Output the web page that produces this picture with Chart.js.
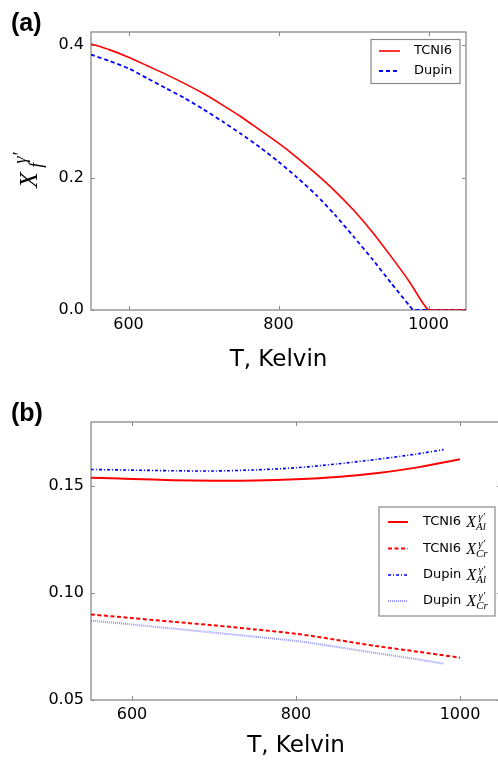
<!DOCTYPE html>
<html>
<head>
<meta charset="utf-8">
<script src="https://cdn.jsdelivr.net/npm/chart.js@4.4.1/dist/chart.umd.min.js"></script>
<style>
  html, body { margin: 0; padding: 0; background: #fff; overflow: hidden; width: 498px; height: 761px; }
  #wrapA { position: absolute; left: 0; top: 0; }
  #wrapB { position: absolute; left: 0; top: 380px; }
</style>
</head>
<body>
<div id="wrapA"><canvas id="chartA" width="498" height="380"></canvas></div>
<div id="wrapB"><canvas id="chartB" width="512" height="381"></canvas></div>
<script>
// axis ticks
const xTicks = [600, 800, 1000];
const yTicksA = [0.0, 0.2, 0.4];
const yTicksB = [0.05, 0.10, 0.15];

// (a) gamma' fraction vs T
const tempA1 = [550, 575, 600, 625, 650, 675, 700, 725, 750, 775, 800, 825, 850, 875, 900, 925, 950, 975, 1000, 1025, 1050];
const fracTCNI6 = [0.402, 0.393, 0.382, 0.369, 0.356, 0.342, 0.327, 0.310, 0.292, 0.272, 0.252, 0.230, 0.206, 0.180, 0.151, 0.118, 0.081, 0.042, 0.000, 0.000, 0.000];
const tempA2 = [550, 575, 600, 625, 650, 675, 700, 725, 750, 775, 800, 825, 850, 875, 900, 925, 950, 975, 980, 1000, 1050];
const fracDupin = [0.386, 0.376, 0.365, 0.350, 0.335, 0.320, 0.303, 0.285, 0.266, 0.246, 0.224, 0.200, 0.174, 0.144, 0.111, 0.077, 0.041, 0.006, 0.000, 0.000, 0.000];

// (b) gamma' composition vs T
const tempB1 = [550, 600, 650, 700, 750, 800, 850, 900, 950, 1000];
const alTCNI6 = [0.1539, 0.1534, 0.1528, 0.1525, 0.1526, 0.1532, 0.1543, 0.1562, 0.1589, 0.1626];
const crTCNI6 = [0.0900, 0.0883, 0.0866, 0.0849, 0.0830, 0.0810, 0.0781, 0.0751, 0.0725, 0.0698];
const tempB2 = [550, 600, 650, 700, 750, 800, 850, 900, 950, 980];
const alDupin = [0.1578, 0.1575, 0.1572, 0.1571, 0.1576, 0.1586, 0.1604, 0.1626, 0.1652, 0.1671];
const crDupin = [0.0871, 0.0853, 0.0834, 0.0815, 0.0796, 0.0776, 0.0748, 0.0718, 0.0689, 0.0670];

function pts(xs, ys) { return xs.map((x, i) => ({x: x, y: ys[i]})); }

// X with subscript and superscript, roughly like mathtext
function drawMath(ctx, x, y, size, sub, sup, subDx, supDx) {
    ctx.textBaseline = 'alphabetic';
    ctx.textAlign = 'left';
    ctx.font = 'italic ' + size + 'px "Liberation Serif"';
    ctx.fillText('X', x, y);
    const w = ctx.measureText('X').width;
    const s = Math.round(size * 0.68);
    ctx.font = 'italic ' + s + 'px "Liberation Serif"';
    ctx.fillText(sub, x + w + size * subDx, y + size * 0.2);
    ctx.fillText(sup, x + w + size * supDx, y - size * 0.42);
}

const mplFrame = {
    id: 'mplFrame',
    beforeDatasetsDraw(chart) {
        const {ctx, chartArea: a, scales} = chart;
        ctx.save();
        ctx.strokeStyle = '#8a8a8a';
        ctx.lineWidth = 1.3;
        ctx.strokeRect(a.left, a.top, a.right - a.left, a.bottom - a.top);
        ctx.lineWidth = 1;
        ctx.beginPath();
        scales.x.ticks.forEach(t => {
            const px = Math.round(scales.x.getPixelForValue(t.value)) + 0.5;
            ctx.moveTo(px, a.bottom); ctx.lineTo(px, a.bottom - 4);
            ctx.moveTo(px, a.top); ctx.lineTo(px, a.top + 4);
        });
        scales.y.ticks.forEach(t => {
            const py = Math.round(scales.y.getPixelForValue(t.value)) + 0.5;
            ctx.moveTo(a.left, py); ctx.lineTo(a.left + 4, py);
            ctx.moveTo(a.right, py); ctx.lineTo(a.right - 4, py);
        });
        ctx.stroke();
        ctx.restore();
    },
    afterDraw(chart, args, opts) {
        const ctx = chart.ctx;
        ctx.save();
        // panel tag
        ctx.fillStyle = '#000';
        ctx.font = 'bold 25px "Liberation Sans"';
        ctx.textBaseline = 'middle';
        ctx.textAlign = 'left';
        ctx.fillText(opts.tag, 11, opts.tagY);
        // y label
        if (opts.ylabel) {
            ctx.save();
            ctx.translate(37, 188);
            ctx.rotate(-Math.PI / 2);
            drawMath(ctx, 0, 0, 26, 'f', 'γ′', 0.17, 0.33);
            ctx.restore();
        }
        // legend
        const lg = opts.legend;
        ctx.fillStyle = '#fff';
        ctx.fillRect(lg.box[0], lg.box[1], lg.box[2] - lg.box[0], lg.box[3] - lg.box[1]);
        ctx.strokeStyle = '#8a8a8a';
        ctx.lineWidth = 1.2;
        ctx.strokeRect(lg.box[0], lg.box[1], lg.box[2] - lg.box[0], lg.box[3] - lg.box[1]);
        chart.data.datasets.forEach((ds, i) => {
            const yy = lg.rows[i];
            ctx.strokeStyle = ds.borderColor;
            ctx.lineWidth = ds.borderWidth;
            ctx.setLineDash(ds.borderDash || []);
            ctx.beginPath();
            ctx.moveTo(lg.lx[0], yy);
            ctx.lineTo(lg.lx[1], yy);
            ctx.stroke();
            ctx.setLineDash([]);
            ctx.fillStyle = '#000';
            ctx.font = '13px "DejaVu Sans"';
            ctx.textBaseline = 'middle';
            ctx.textAlign = 'left';
            ctx.fillText(ds.label, lg.tx, yy);
            if (ds.sub) {
                const w = ctx.measureText(ds.label + ' ').width;
                drawMath(ctx, lg.tx + w + 1, yy + 5, 16, ds.sub, 'γ′', 0.0, 0.14);
            }
        });
        ctx.restore();
    }
};

function xAxis(height, titlePad) {
    return {
        type: 'linear', min: 550, max: 1050,
        grid: {display: false, drawTicks: false},
        border: {display: false},
        ticks: {font: {family: 'DejaVu Sans', size: 16}, color: '#000', padding: 5, includeBounds: false,
                callback: v => String(v)},
        afterBuildTicks: s => { s.ticks = xTicks.map(v => ({value: v})); },
        afterFit: s => { s.height = height; },
        title: {display: true, text: 'T, Kelvin', color: '#000',
                font: {family: 'DejaVu Sans', size: 23}, padding: {top: 0, bottom: titlePad}}
    };
}

function yAxis(min, max, vals, digits) {
    return {
        type: 'linear', min: min, max: max,
        grid: {display: false, drawTicks: false},
        border: {display: false},
        ticks: {font: {family: 'DejaVu Sans', size: 16}, color: '#000', padding: 7, includeBounds: false,
                callback: v => Number(v).toFixed(digits)},
        afterBuildTicks: s => { s.ticks = vals.map(v => ({value: v})); },
        afterFit: s => { s.width = 91; }
    };
}

new Chart(document.getElementById('chartA'), {
    type: 'line',
    data: {
        datasets: [
            {label: 'TCNI6', data: pts(tempA1, fracTCNI6), borderColor: '#ff0000', borderWidth: 1.6, tension: 0.2},
            {label: 'Dupin', data: pts(tempA2, fracDupin), borderColor: '#0000ff', borderWidth: 1.8, borderDash: [4, 3], tension: 0.2}
        ]
    },
    options: {
        responsive: false,
        animation: false,
        layout: {padding: {left: 0, top: 32, right: 32, bottom: 0}},
        elements: {point: {radius: 0}},
        plugins: {
            legend: {display: false},
            tooltip: {enabled: false},
            mplFrame: {
                tag: '(a)', tagY: 24, ylabel: true,
                legend: {box: [371, 39.5, 460, 83.5], rows: [51, 71], lx: [379, 400], tx: 414}
            }
        },
        scales: {x: xAxis(70, 6), y: yAxis(0, 0.42, yTicksA, 1)}
    },
    plugins: [mplFrame]
});

new Chart(document.getElementById('chartB'), {
    type: 'line',
    data: {
        datasets: [
            {label: 'TCNI6', sub: 'Al', data: pts(tempB1, alTCNI6), borderColor: '#ff0000', borderWidth: 2, tension: 0.3},
            {label: 'TCNI6', sub: 'Cr', data: pts(tempB1, crTCNI6), borderColor: '#ff0000', borderWidth: 2, borderDash: [4, 2.5], tension: 0.3},
            {label: 'Dupin', sub: 'Al', data: pts(tempB2, alDupin), borderColor: '#0000ff', borderWidth: 1.6, borderDash: [3, 2, 1, 2], tension: 0.3},
            {label: 'Dupin', sub: 'Cr', data: pts(tempB2, crDupin), borderColor: 'rgba(60, 60, 255, 0.55)', borderWidth: 2, borderDash: [1, 1], tension: 0.3}
        ]
    },
    options: {
        responsive: false,
        animation: false,
        layout: {padding: {left: 0, top: 42, right: 11, bottom: 0}},
        elements: {point: {radius: 0}},
        plugins: {
            legend: {display: false},
            tooltip: {enabled: false},
            mplFrame: {
                tag: '(b)', tagY: 34, ylabel: false,
                legend: {box: [379, 127, 495, 236], rows: [142, 168.5, 195, 221], lx: [388, 408], tx: 423}
            }
        },
        scales: {x: xAxis(61, 1), y: yAxis(0.05, 0.18, yTicksB, 2)}
    },
    plugins: [mplFrame]
});
</script>
</body>
</html>
